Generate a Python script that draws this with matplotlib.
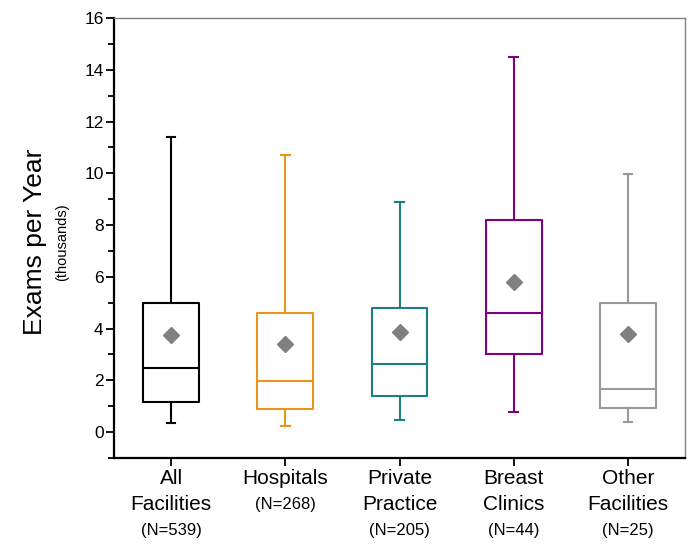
import matplotlib.pyplot as plt
from matplotlib.ticker import MultipleLocator

plt.rcParams['font.family'] = ['Liberation Sans', 'DejaVu Sans']

# facility groups and counts
groups = ['All\nFacilities', 'Hospitals', 'Private\nPractice', 'Breast\nClinics', 'Other\nFacilities']
counts = [539, 268, 205, 44, 25]

# box statistics, thousands of exams per year
whislo = [0.37, 0.23, 0.45, 0.77, 0.40]
q1 = [1.17, 0.90, 1.39, 3.00, 0.95]
med = [2.47, 1.98, 2.65, 4.62, 1.67]
q3 = [4.97, 4.60, 4.79, 8.20, 5.00]
whishi = [11.40, 10.72, 8.88, 14.50, 9.97]
means = [3.75, 3.40, 3.85, 5.80, 3.78]

colors = ['black', '#E8961E', '#1F7F7F', '#800080', '#999999']

fig = plt.figure(figsize=(7, 5.54), dpi=100)
ax = fig.add_axes([114 / 700, 96 / 554, 571 / 700, 440 / 554])

for i in range(len(groups)):
    st = [dict(whislo=whislo[i], q1=q1[i], med=med[i], q3=q3[i],
               whishi=whishi[i], mean=means[i], fliers=[])]
    c = colors[i]
    ax.bxp(st, positions=[i + 1], widths=0.49, capwidths=0.075, showmeans=True,
           boxprops=dict(color=c, linewidth=1.5),
           medianprops=dict(color=c, linewidth=1.5),
           whiskerprops=dict(color=c, linewidth=1.5),
           capprops=dict(color=c, linewidth=1.5),
           meanprops=dict(marker='D', markerfacecolor='#808080',
                          markeredgecolor='#808080', markersize=8))

ax.set_xlim(0.5, 5.5)
ax.set_ylim(-1, 16)
ax.yaxis.set_major_locator(MultipleLocator(2))
ax.yaxis.set_minor_locator(MultipleLocator(1))
ax.tick_params(axis='y', which='major', length=6, width=1.3, labelsize=12.5,
               direction='out', pad=1.5)
ax.tick_params(axis='y', which='minor', length=4, width=1.3, direction='out')
ax.set_xticks(range(1, len(groups) + 1))
ax.set_xticklabels([''] * len(groups))
ax.tick_params(axis='x', length=6, width=1.3, direction='out')

for s in ['left', 'bottom']:
    ax.spines[s].set_linewidth(1.6)
for s in ['top', 'right']:
    ax.spines[s].set_color('#808080')
    ax.spines[s].set_linewidth(1.0)

for i, (g, n) in enumerate(zip(groups, counts)):
    ax.annotate(g, xy=(i + 1, 0), xycoords=('data', 'axes fraction'),
                xytext=(0, -8), textcoords='offset points',
                ha='center', va='top', fontsize=15, linespacing=1.45)
    nl = g.count('\n') + 1
    ax.annotate('(N=%d)' % n, xy=(i + 1, 0), xycoords=('data', 'axes fraction'),
                xytext=(0, -(22 + 25 * nl) * 0.72), textcoords='offset points',
                ha='center', va='center', fontsize=12)

fig.text(35 / 700, 1 - 242 / 554, 'Exams per Year', rotation=90,
         ha='center', va='center', fontsize=19)
fig.text(62 / 700, 1 - 242 / 554, '(thousands)', rotation=90,
         ha='center', va='center', fontsize=10.5)

fig.savefig('out.png', dpi=100)
